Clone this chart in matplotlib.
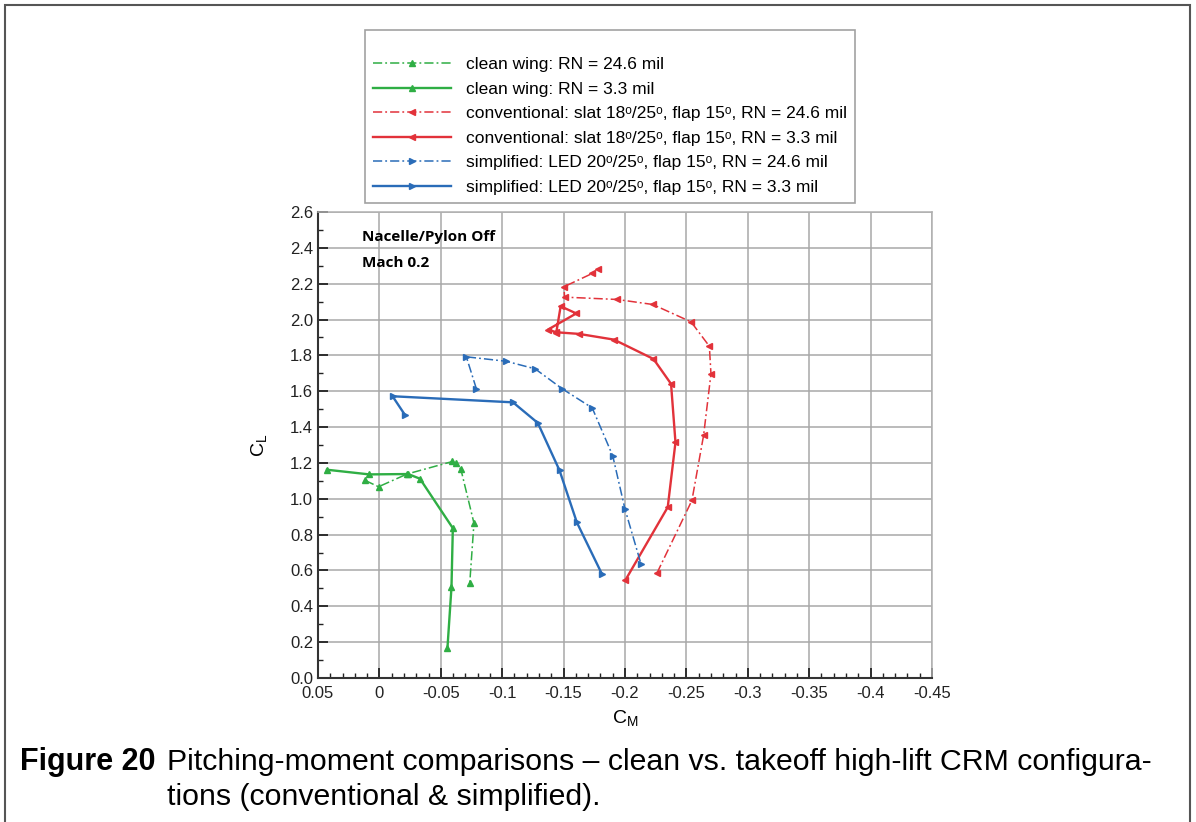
import matplotlib
matplotlib.use("Agg")
import matplotlib.pyplot as plt
from matplotlib.patches import Rectangle
from matplotlib.ticker import MultipleLocator, FixedLocator

# pitching moment (CM) vs lift coefficient (CL)
clean_hi_cm = [0.0115, 0.0007, -0.0225, -0.0595, -0.062, -0.0663, -0.077, -0.0736]
clean_hi_cl = [1.102, 1.067, 1.138, 1.208, 1.199, 1.166, 0.864, 0.532]

clean_lo_cm = [0.0427, 0.0083, -0.0234, -0.033, -0.0598, -0.0587, -0.0554]
clean_lo_cl = [1.162, 1.136, 1.138, 1.112, 0.836, 0.507, 0.166]

conv_hi_cm = [-0.226, -0.2545, -0.264, -0.270, -0.2687, -0.2538, -0.2226, -0.1936,
              -0.1508, -0.1503, -0.1733, -0.178]
conv_hi_cl = [0.585, 0.991, 1.354, 1.697, 1.851, 1.987, 2.084, 2.112,
              2.125, 2.183, 2.257, 2.283]

conv_lo_cm = [-0.2004, -0.2348, -0.2411, -0.2375, -0.2232, -0.191, -0.1624, -0.144,
              -0.1373, -0.1603, -0.1476, -0.144]
conv_lo_cl = [0.547, 0.953, 1.315, 1.641, 1.780, 1.888, 1.920, 1.929,
              1.944, 2.034, 2.074, 1.926]

simp_hi_cm = [-0.079, -0.0708, -0.1034, -0.1268, -0.149, -0.1733, -0.190, -0.200, -0.213]
simp_hi_cl = [1.613, 1.792, 1.767, 1.725, 1.613, 1.507, 1.240, 0.942, 0.637]

simp_lo_cm = [-0.0207, -0.0107, -0.1088, -0.129, -0.1467, -0.1608, -0.1813]
simp_lo_cl = [1.469, 1.572, 1.538, 1.423, 1.158, 0.868, 0.579]

labels = [
    "clean wing: RN = 24.6 mil",
    "clean wing: RN = 3.3 mil",
    "conventional: slat 18\u1d52/25\u1d52, flap 15\u1d52, RN = 24.6 mil",
    "conventional: slat 18\u1d52/25\u1d52, flap 15\u1d52, RN = 3.3 mil",
    "simplified: LED 20\u1d52/25\u1d52, flap 15\u1d52, RN = 24.6 mil",
    "simplified: LED 20\u1d52/25\u1d52, flap 15\u1d52, RN = 3.3 mil",
]

x_ticks = [0.05, 0, -0.05, -0.1, -0.15, -0.2, -0.25, -0.3, -0.35, -0.4, -0.45]
x_ticklabels = ["0.05", "0", "-0.05", "-0.1", "-0.15", "-0.2", "-0.25", "-0.3", "-0.35", "-0.4", "-0.45"]

green = "#2fae44"
red = "#e2323a"
blue = "#2a6cb8"

plt.rcParams["font.family"] = ["Liberation Sans", "DejaVu Sans"]
plt.rcParams["mathtext.fontset"] = "custom"
plt.rcParams["mathtext.rm"] = "Liberation Sans"

fig = plt.figure(figsize=(11.96, 8.22), dpi=100)
ax = fig.add_axes([318 / 1196, 1 - 678 / 822, (932 - 318) / 1196, (678 - 212) / 822])

dd = (0, (6, 2, 1.2, 2))
series = [
    (clean_hi_cm, clean_hi_cl, green, dd, "^", 1.1),
    (clean_lo_cm, clean_lo_cl, green, "-", "^", 1.7),
    (conv_hi_cm, conv_hi_cl, red, dd, "<", 1.1),
    (conv_lo_cm, conv_lo_cl, red, "-", "<", 1.7),
    (simp_hi_cm, simp_hi_cl, blue, dd, ">", 1.1),
    (simp_lo_cm, simp_lo_cl, blue, "-", ">", 1.7),
]
handles = []
for (cm, cl, c, ls, mk, lw), lab in zip(series, labels):
    h, = ax.plot(cm, cl, color=c, linestyle=ls, linewidth=lw, marker=mk,
                 markersize=4.5, label=lab)
    handles.append(h)

ax.set_xlim(0.05, -0.45)
ax.set_ylim(0, 2.6)
ax.xaxis.set_major_locator(FixedLocator(x_ticks))
ax.set_xticklabels(x_ticklabels)
ax.xaxis.set_minor_locator(MultipleLocator(0.01))
ax.yaxis.set_major_locator(MultipleLocator(0.2))
ax.yaxis.set_minor_locator(MultipleLocator(0.1))
ax.yaxis.set_major_formatter(plt.FuncFormatter(lambda v, p: f"{v:.1f}"))
ax.tick_params(which="both", direction="in", top=False, right=False, labelsize=12, colors="#222222")
ax.tick_params(which="major", length=7, width=1.3)
ax.tick_params(which="minor", length=3.5, width=1)
ax.tick_params(axis="x", pad=5.5)
ax.grid(True, which="major", color="#a8a8a8", linewidth=1.1)
ax.set_axisbelow(True)
for s in ["left", "bottom"]:
    ax.spines[s].set_color("#333333")
    ax.spines[s].set_linewidth(1.5)
for s in ["top", "right"]:
    ax.spines[s].set_color("#b0b0b0")
    ax.spines[s].set_linewidth(1.1)

ax.set_xlabel(r"C$_\mathregular{M}$", fontsize=14, labelpad=6)
ax.set_ylabel(r"C$_\mathregular{L}$", fontsize=14, labelpad=14)

fig.text(362 / 1196, 1 - 237 / 822, "Nacelle/Pylon Off", fontsize=11, fontweight="bold",
         family="Open Sans", va="center")
fig.text(362 / 1196, 1 - 263 / 822, "Mach 0.2", fontsize=11, fontweight="bold",
         family="Open Sans", va="center")

leg = fig.legend(handles=handles, loc="upper left", bbox_to_anchor=(365 / 1196, 1 - 30 / 822),
                 borderaxespad=0, fontsize=12.5, frameon=True, fancybox=False,
                 edgecolor="#8a8a8a", handlelength=4.5, handletextpad=0.85,
                 labelspacing=0.54, borderpad=0.45, title=" ", title_fontsize=8)
leg.get_frame().set_linewidth(1.2)

# caption below the plot
fig.text(20 / 1196, 1 - 762 / 822, "Figure 20", fontsize=22, fontweight="bold",
         va="center")
fig.text(167 / 1196, 1 - 762 / 822,
         "Pitching-moment comparisons \u2013 clean vs. takeoff high-lift CRM configura-",
         fontsize=21.8, va="center")
fig.text(167 / 1196, 1 - 797 / 822, "tions (conventional & simplified).",
         fontsize=21.8, va="center")

# outer frame
fig.patches.append(Rectangle((5 / 1196, -0.05), 1185 / 1196, 1.05 - 5 / 822,
                             transform=fig.transFigure, fill=False,
                             edgecolor="#555555", linewidth=1.5))

fig.savefig("out.png", dpi=100)
